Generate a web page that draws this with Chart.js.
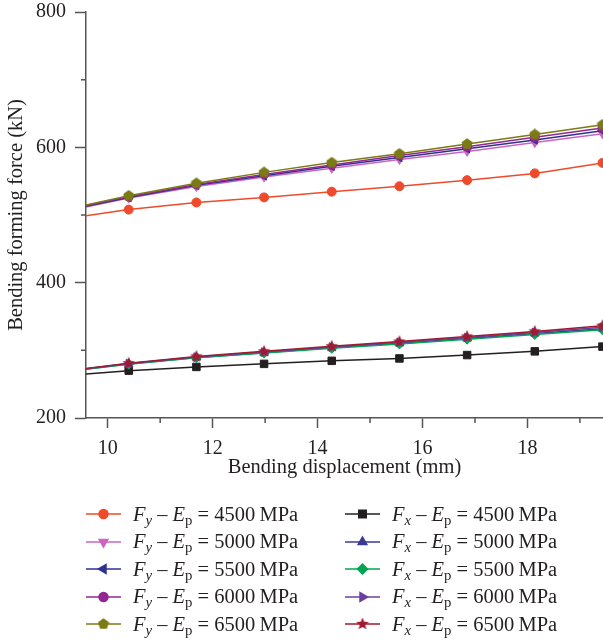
<!DOCTYPE html>
<html>
<head>
<meta charset="utf-8">
<script src="https://cdn.jsdelivr.net/npm/chart.js@4.4.1/dist/chart.umd.min.js"></script>
<style>
  body { margin: 0; background: #fff; }
  #page { position: relative; width: 603px; height: 644px; overflow: hidden; }
  #chartBox { position: absolute; left: 0; top: 0; width: 603px; height: 480px; }
  #legend { position: absolute; left: 0; top: 0; width: 603px; height: 644px;
            font-family: "Liberation Serif", "DejaVu Serif", serif; font-size: 20.5px; color: #231f20; }
  .item { position: absolute; height: 22px; display: flex; align-items: center; white-space: nowrap; }
  .item span { margin-left: 9px; }
  sub { font-size: 0.72em; vertical-align: -0.28em; line-height: 0; }
</style>
</head>
<body>
<div id="page">
  <div id="chartBox"><canvas id="forceChart"></canvas></div>
  <div id="legend"></div>
</div>
<script>
// bending displacement (mm), one sample every ~1.29 mm
const dispX = [9.11, 10.4, 11.69, 12.98, 14.27, 15.56, 16.85, 18.14, 19.43];
const moduli = [4500, 5000, 5500, 6000, 6500];

// forming force Fy (kN) per plate modulus
const fy4500 = [493.7, 508, 518.5, 526, 534.5, 542.5, 551.5, 561.5, 577];
const fy5000 = [504.4, 525, 542, 556, 569, 582, 594, 607, 620];
const fy5500 = [505.4, 526, 544, 558, 572, 585, 598, 611, 624.5];
const fy6000 = [506.4, 527, 545, 560, 574, 588, 601, 615, 628.5];
const fy6500 = [507, 528.5, 547, 563, 577.5, 590.5, 605, 619, 633.5];

// forming force Fx (kN) per plate modulus
const fx4500 = [262.1, 270, 275.5, 280, 284.5, 288, 293, 298.5, 305.5];
const fx5000 = [267.8, 280, 289.5, 296.5, 304, 310.5, 317.5, 325, 332];
const fx5500 = [267.6, 279.5, 289, 296, 303, 309.5, 316.5, 323.5, 330.5];
const fx6000 = [268.2, 280.5, 290, 297.5, 305, 312, 319, 326.5, 334];
const fx6500 = [268.6, 281, 291, 298.5, 306, 313, 320.5, 328, 336.5];

const xMinor = [11, 13, 15, 17, 19];
const yMinor = [300, 500, 700];

const axisColor = '#555557';
const textColor = '#231f20';
const serif = '"Liberation Serif", "DejaVu Serif", serif';

// small canvases for the marker shapes Chart.js does not have
function shapeCanvas(color, size, draw) {
    const c = document.createElement('canvas');
    c.width = size; c.height = size;
    const g = c.getContext('2d');
    g.fillStyle = color;
    g.translate(size / 2, size / 2);
    g.beginPath();
    draw(g);
    g.closePath();
    g.fill();
    return c;
}
function pentagon(color) {
    return shapeCanvas(color, 12, g => {
        for (let i = 0; i < 5; i++) {
            const a = -Math.PI / 2 + i * 2 * Math.PI / 5;
            g.lineTo(5.8 * Math.cos(a), 5.8 * Math.sin(a));
        }
    });
}
function star(color) {
    return shapeCanvas(color, 14, g => {
        for (let i = 0; i < 10; i++) {
            const a = -Math.PI / 2 + i * Math.PI / 5;
            const r = i % 2 ? 2.9 : 6.6;
            g.lineTo(r * Math.cos(a), r * Math.sin(a));
        }
    });
}

const series = [
    { name: 'y', mod: 0, data: fy4500, color: '#ef4a2b', style: 'circle', rot: 0, r: 4.5 },
    { name: 'y', mod: 1, data: fy5000, color: '#cf63c1', style: 'triangle', rot: 180, r: 5 },
    { name: 'y', mod: 2, data: fy5500, color: '#2e3192', style: 'triangle', rot: -90, r: 5 },
    { name: 'y', mod: 3, data: fy6000, color: '#92278f', style: 'circle', rot: 0, r: 4.5 },
    { name: 'y', mod: 4, data: fy6500, color: '#7b7a14', style: pentagon('#7b7a14'), rot: 0, r: 5 },
    { name: 'x', mod: 0, data: fx4500, color: '#231f20', style: 'rect', rot: 0, r: 5.3 },
    { name: 'x', mod: 1, data: fx5000, color: '#393a96', style: 'triangle', rot: 0, r: 5 },
    { name: 'x', mod: 2, data: fx5500, color: '#00a651', style: 'rectRot', rot: 0, r: 5 },
    { name: 'x', mod: 3, data: fx6000, color: '#6b3fa0', style: 'triangle', rot: 90, r: 5 },
    { name: 'x', mod: 4, data: fx6500, color: '#9e1b32', style: star('#9e1b32'), rot: 0, r: 6 }
];

const datasets = series.map((s, i) => ({
    label: 'F' + s.name + ' - Ep = ' + moduli[s.mod] + ' MPa',
    data: dispX.map((x, k) => ({ x: x, y: s.data[k] })),
    borderColor: s.color,
    backgroundColor: s.color,
    borderWidth: 1.5,
    pointStyle: s.style,
    pointRotation: s.rot,
    pointRadius: s.r,
    pointBorderWidth: 1,
    tension: 0,
    clip: 0,
    order: series.length - i
}));

// short unlabelled ticks between the major ones
const minorTicks = {
    id: 'minorTicks',
    afterDraw(chart) {
        const { ctx, scales: { x, y } } = chart;
        ctx.save();
        ctx.strokeStyle = axisColor;
        ctx.lineWidth = 1.5;
        ctx.beginPath();
        for (const v of xMinor) {
            const px = x.getPixelForValue(v);
            ctx.moveTo(px, x.top);
            ctx.lineTo(px, x.top + 5);
        }
        for (const v of yMinor) {
            const py = y.getPixelForValue(v);
            ctx.moveTo(y.right, py);
            ctx.lineTo(y.right - 5, py);
        }
        ctx.stroke();
        ctx.restore();
    }
};

// fixed axis boxes so the plot area sits where it should
function fixBox(size) {
    return s => {
        if (s.isHorizontal()) s.height = size; else s.width = size;
        s.paddingTop = 0; s.paddingBottom = 0;
        s.paddingLeft = 0; s.paddingRight = 0;
    };
}

const chart = new Chart(document.getElementById('forceChart'), {
    type: 'line',
    data: { datasets },
    plugins: [minorTicks],
    options: {
        responsive: true,
        maintainAspectRatio: false,
        animation: false,
        layout: { autoPadding: false, padding: { top: 12, right: 0, bottom: 0, left: 0 } },
        plugins: { legend: { display: false }, tooltip: { enabled: false } },
        scales: {
            x: {
                type: 'linear',
                min: 9.586,
                max: 19.44,
                border: { color: axisColor, width: 1.5 },
                grid: { drawOnChartArea: false, tickLength: 10, tickColor: axisColor, tickWidth: 1.5 },
                ticks: {
                    stepSize: 2, includeBounds: false, autoSkip: false, maxRotation: 0,
                    padding: 9, color: textColor, font: { family: serif, size: 20 }
                },
                title: {
                    display: true, text: 'Bending displacement (mm)', color: textColor,
                    font: { family: serif, size: 20.5 }, padding: { top: 0, bottom: 0 }
                },
                afterFit: fixBox(62)
            },
            y: {
                min: 200,
                max: 800,
                border: { color: axisColor, width: 1.5 },
                grid: { drawOnChartArea: false, tickLength: 11, tickColor: axisColor, tickWidth: 1.5 },
                ticks: { stepSize: 200, padding: 9, color: textColor, font: { family: serif, size: 20 } },
                title: {
                    display: true, text: 'Bending forming force (kN)', color: textColor,
                    font: { family: serif, size: 20.5 }, padding: { top: 4, bottom: 0 }
                },
                afterFit: fixBox(86)
            }
        }
    }
});

// legend: two columns of five rows under the plot
const legend = document.getElementById('legend');
const rowY = [514, 541.5, 569, 596.5, 624];
const colX = [84, 343];
series.forEach(s => {
    const item = document.createElement('div');
    item.className = 'item';
    item.style.left = colX[s.name === 'y' ? 0 : 1] + 'px';
    item.style.top = (rowY[s.mod] - 11) + 'px';
    const c = document.createElement('canvas');
    c.width = 40; c.height = 22;
    const g = c.getContext('2d');
    g.strokeStyle = s.color;
    g.fillStyle = s.color;
    g.lineWidth = 1.5;
    g.beginPath();
    g.moveTo(2, 11); g.lineTo(37, 11);
    g.stroke();
    Chart.helpers.drawPoint(g, { pointStyle: s.style, rotation: s.rot, radius: s.r, borderWidth: 1 }, 19.5, 11);
    item.appendChild(c);
    const t = document.createElement('span');
    t.innerHTML = '<i>F</i><sub><i>' + s.name + '</i></sub> \u2013 <i>E</i><sub>p</sub> = ' +
        moduli[s.mod] + '\u2009MPa';
    item.appendChild(t);
    legend.appendChild(item);
});
</script>
</body>
</html>
